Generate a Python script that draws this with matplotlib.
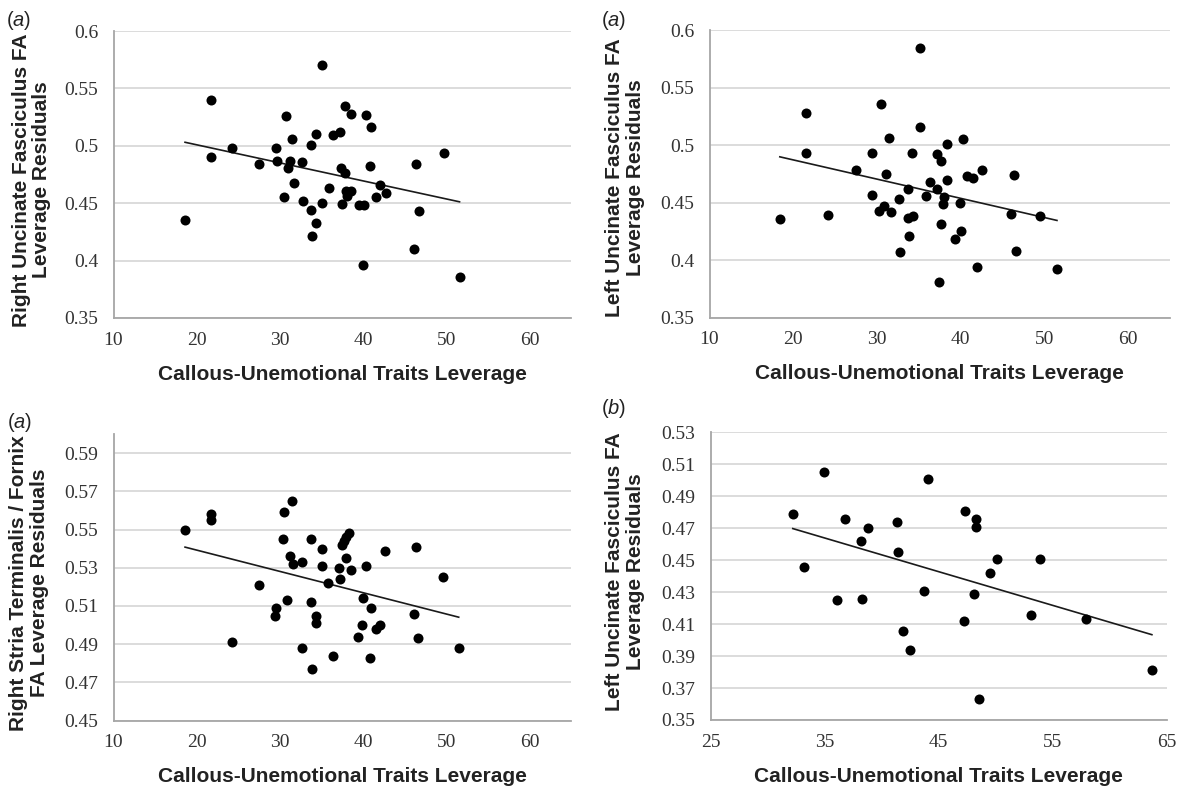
import numpy as np
import matplotlib
matplotlib.use("Agg")
import matplotlib.pyplot as plt

plt.rcParams['mathtext.fontset'] = 'custom'
plt.rcParams['mathtext.rm'] = 'Liberation Sans'
plt.rcParams['mathtext.it'] = 'Liberation Sans:italic'

# ---- data ----
# (a) right uncinate fasciculus
ruf_x = [35.1, 21.7, 30.7, 37.8, 38.5, 40.4, 40.9, 31.5, 34.4, 36.4, 37.2, 33.7,
         24.3, 29.5, 21.7, 49.7, 27.5, 29.6, 31.2, 31.0, 32.7, 37.3, 37.8, 40.8,
         46.4, 31.7, 35.9, 38.0, 38.6, 38.1, 42.0, 42.7, 41.6, 30.5, 32.8, 35.1,
         37.5, 39.5, 40.1, 33.8, 46.7, 34.4, 33.9, 18.6, 46.1, 40.0, 51.6]
ruf_y = [0.570, 0.540, 0.526, 0.535, 0.528, 0.527, 0.516, 0.506, 0.510, 0.509,
         0.512, 0.501, 0.498, 0.498, 0.490, 0.494, 0.484, 0.487, 0.487, 0.481,
         0.486, 0.481, 0.476, 0.482, 0.484, 0.468, 0.463, 0.461, 0.461, 0.456,
         0.466, 0.459, 0.455, 0.455, 0.452, 0.450, 0.449, 0.448, 0.448, 0.444,
         0.443, 0.433, 0.421, 0.435, 0.410, 0.396, 0.386]

# (a) left uncinate fasciculus
luf_x = [35.1, 21.5, 30.5, 35.1, 31.4, 38.4, 40.3, 21.5, 29.4, 34.2, 37.2, 37.7,
         27.5, 31.1, 36.3, 38.4, 40.8, 41.5, 42.6, 46.4, 33.7, 37.2, 35.8, 38.0,
         29.4, 32.6, 37.9, 39.9, 30.8, 30.3, 31.7, 33.7, 34.3, 18.4, 24.2, 46.0,
         49.5, 37.6, 33.8, 40.0, 39.3, 32.7, 46.6, 42.0, 51.5, 37.4]
luf_y = [0.584, 0.528, 0.536, 0.516, 0.506, 0.501, 0.505, 0.493, 0.493, 0.493,
         0.492, 0.486, 0.478, 0.475, 0.468, 0.470, 0.473, 0.471, 0.478, 0.474,
         0.462, 0.462, 0.456, 0.455, 0.457, 0.453, 0.449, 0.450, 0.447, 0.443,
         0.442, 0.437, 0.438, 0.436, 0.439, 0.440, 0.438, 0.431, 0.421, 0.425,
         0.418, 0.407, 0.408, 0.394, 0.392, 0.381]

# (a) right stria terminalis / fornix
rst_x = [31.4, 30.5, 21.7, 21.7, 18.6, 30.4, 33.7, 38.3, 38.0, 37.7, 37.5, 35.1,
         42.6, 46.4, 31.2, 31.6, 32.7, 38.0, 35.1, 37.1, 38.5, 40.3, 37.2, 35.8,
         49.6, 27.5, 40.0, 40.9, 30.9, 33.7, 29.5, 29.4, 34.3, 34.4, 46.1, 42.0,
         41.6, 39.9, 39.4, 46.6, 24.3, 32.7, 51.5, 36.4, 40.8, 33.9]
rst_y = [0.565, 0.559, 0.558, 0.555, 0.550, 0.545, 0.545, 0.548, 0.546, 0.544,
         0.542, 0.540, 0.539, 0.541, 0.536, 0.532, 0.533, 0.535, 0.531, 0.530,
         0.529, 0.531, 0.524, 0.522, 0.525, 0.521, 0.514, 0.509, 0.513, 0.512,
         0.509, 0.505, 0.505, 0.501, 0.506, 0.500, 0.498, 0.500, 0.494, 0.493,
         0.491, 0.488, 0.488, 0.484, 0.483, 0.477]

# (b) left uncinate fasciculus
lufb_x = [34.9, 44.1, 32.2, 47.3, 36.8, 48.3, 48.3, 38.8, 41.3, 38.2, 41.4, 33.2,
          50.1, 53.9, 49.5, 43.7, 48.1, 36.1, 38.3, 53.1, 57.9, 47.2, 41.9, 42.5,
          63.7, 48.5]
lufb_y = [0.505, 0.501, 0.479, 0.481, 0.476, 0.476, 0.471, 0.470, 0.474, 0.462,
          0.455, 0.446, 0.451, 0.451, 0.442, 0.431, 0.429, 0.425, 0.426, 0.416,
          0.413, 0.412, 0.406, 0.394, 0.381, 0.363]

yticks_uf = [0.35, 0.40, 0.45, 0.50, 0.55, 0.60]
yticks_st = [0.45, 0.47, 0.49, 0.51, 0.53, 0.55, 0.57, 0.59]
yticks_b = [0.35, 0.37, 0.39, 0.41, 0.43, 0.45, 0.47, 0.49, 0.51, 0.53]
xticks_a = [10, 20, 30, 40, 50, 60]
xticks_b = [25, 35, 45, 55, 65]

xlabel = "Callous-Unemotional Traits Leverage"

panels = [
    # x, y, ylabel, letter, yticks, ylim, xticks, xlim, box(px: l, t, r, b), ylabel pos(px), letter pos(px)
    (ruf_x, ruf_y, "Right Uncinate Fasciculus FA\nLeverage Residuals", "a",
     yticks_uf, (0.35, 0.60), xticks_a, (10, 65), (113.5, 31, 571, 318), (31.5, 180), (19, 20)),
    (luf_x, luf_y, "Left Uncinate Fasciculus FA\nLeverage Residuals", "a",
     yticks_uf, (0.35, 0.60), xticks_a, (10, 65), (709.5, 30, 1170, 317.6), (625, 178), (614, 20)),
    (rst_x, rst_y, "Right Stria Terminalis / Fornix\nFA Leverage Residuals", "a",
     yticks_st, (0.45, 0.60), xticks_a, (10, 65), (113.5, 434.2, 571, 720.5), (29, 583), (20, 423)),
    (lufb_x, lufb_y, "Left Uncinate Fasciculus FA\nLeverage Residuals", "b",
     yticks_b, (0.35, 0.53), xticks_b, (25, 65), (710.7, 432.4, 1166.7, 720), (625, 572), (614, 409)),
]

W, H = 1193, 794
fig = plt.figure(figsize=(W / 100, H / 100), dpi=100)

for x, y, ylab, letter, yt, ylim, xt, xlim, box, ylpos, letpos in panels:
    l, t, r, b = box
    ax = fig.add_axes([l / W, 1 - b / H, (r - l) / W, (b - t) / H])
    x = np.array(x)
    y = np.array(y)
    ax.scatter(x, y, s=52, color='black', zorder=3, linewidths=0)
    # linear trend line, like the spreadsheet's
    k, c = np.polyfit(x, y, 1)
    xs = np.array([x.min(), x.max()])
    ax.plot(xs, k * xs + c, color='#1a1a1a', lw=1.2, zorder=2)

    ax.set_xlim(*xlim)
    ax.set_ylim(*ylim)
    ax.set_xticks(xt)
    ax.set_yticks(yt)
    ax.set_yticklabels(['{:g}'.format(v) for v in yt])
    ax.grid(axis='y', color='#d9d9d9', lw=1.3, zorder=0)
    ax.set_axisbelow(True)
    for s in ['top', 'right']:
        ax.spines[s].set_visible(False)
    for s in ['left', 'bottom']:
        ax.spines[s].set_color('#a6a6a6')
        ax.spines[s].set_linewidth(1.3)
    ax.tick_params(length=0, labelsize=14, colors='#333333')
    ax.tick_params(axis='x', pad=10)
    ax.tick_params(axis='y', pad=11)
    for lab in ax.get_xticklabels() + ax.get_yticklabels():
        lab.set_fontfamily('Liberation Serif')

    fig.text((l + r) / 2 / W, 1 - (b + 56) / H, xlabel, ha='center', va='center',
             fontsize=15, fontweight='bold', family='Liberation Sans', color='#222222')
    fig.text(ylpos[0] / W, 1 - ylpos[1] / H, ylab, ha='center', va='center', rotation=90,
             fontsize=15, fontweight='bold', family='Liberation Sans', color='#222222',
             linespacing=1.12, multialignment='center')
    fig.text(letpos[0] / W, 1 - letpos[1] / H, r'($\it{%s}$)' % letter, ha='center', va='center',
             fontsize=14.5, family='Liberation Sans', color='#222222')

fig.savefig("out.png", dpi=100)
